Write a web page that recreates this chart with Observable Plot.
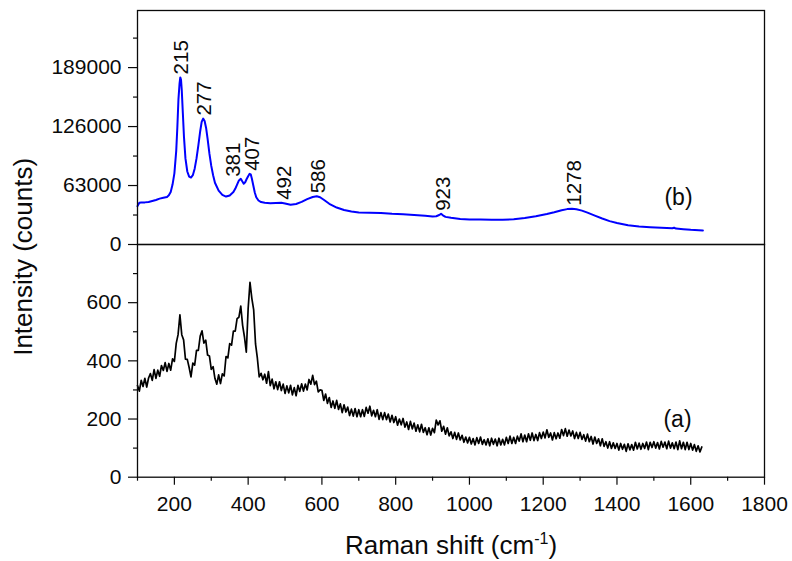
<!DOCTYPE html>
<html><head><meta charset="utf-8">
<script src="https://cdn.jsdelivr.net/npm/d3@7"></script>
<script src="https://cdn.jsdelivr.net/npm/@observablehq/plot@0.6"></script>
<style>
body{margin:0;background:#fff;}
#chart{position:relative;width:792px;height:561px;overflow:hidden;font-family:"Liberation Sans",Arial,sans-serif;}
#chart svg{position:absolute;left:0;}
</style></head><body><div id="chart"></div>
<script>
// ---- data ----
const xMajorTicks = [200, 400, 600, 800, 1000, 1200, 1400, 1600, 1800];
const xMinorTicks = [100, 300, 500, 700, 900, 1100, 1300, 1500, 1700];
const yTopTicks = [0, 63000, 126000, 189000];
const yTopMinor = [31500, 94500, 157500, 220500];
const yBotTicks = [0, 200, 400, 600];
const yBotMinor = [100, 300, 500, 700];
const peaks = [215, 277, 381, 407, 492, 586, 923, 1278];
const xTitle = "Raman shift (cm-1)";
const yTitle = "Intensity (counts)";
const labelB = "(b)";
const labelA = "(a)";

// spectrum (b): Raman shift / counts
const bX = [100,105,110,120,130,140,150,160,170,180,185,190,195,200,205,208,211,214,216,218,220,223,226,230,235,240,245,250,255,260,265,270,274,278,282,286,290,295,300,305,310,320,330,340,350,360,365,370,375,380,384,388,392,396,400,404,407,410,414,418,422,428,435,445,460,475,490,500,515,530,545,560,575,586,595,605,620,640,660,680,700,730,760,790,820,850,880,900,910,918,923,928,935,950,975,1000,1030,1060,1090,1120,1150,1180,1210,1230,1250,1265,1278,1290,1305,1320,1340,1360,1380,1400,1430,1460,1490,1520,1550,1555,1560,1580,1600,1633];
const bY = [41000,44500,44800,45000,45500,46500,47500,49000,50000,50800,52500,56000,64000,76000,100000,125000,155000,172000,178500,176000,165000,140000,115000,92000,78000,72500,71500,74000,81000,92000,106000,121000,131000,134500,132000,124500,113000,97000,84000,74000,66000,57500,53000,51200,52400,56000,59500,64000,68500,70200,67500,65000,66500,70000,73000,75500,75000,70500,63000,55500,50500,47000,45300,44500,44100,44300,44500,43800,42400,43300,45500,48500,50800,51500,50500,47800,43500,39500,36800,35200,34200,33900,33700,32800,32200,31400,30600,30000,30200,31500,32800,31200,29500,28500,27300,26700,26600,26500,26400,27000,28300,30200,32600,34500,36600,37800,38200,37600,36200,34000,30800,27800,25000,23000,20500,19300,18500,17900,17300,17900,17000,16400,15700,15000];

// spectrum (a): counts from 100 cm-1 in 5 cm-1 steps
const aStart = 100, aStep = 5;
const aY = [
315,296,333,312,340,310,341,356,333,370,340,368,347,384,367,394,364,391,368,407,
398,460,490,558,490,472,406,405,377,345,392,385,436,436,485,503,461,471,420,417,
371,380,339,320,352,322,355,348,415,410,459,454,502,502,545,550,588,522,482,430,
580,670,615,575,458,409,345,357,335,354,323,363,315,337,304,328,301,328,298,320,
288,314,290,316,283,308,280,316,295,321,296,320,300,336,320,350,318,330,293,300,
299,264,286,254,274,240,262,237,264,233,252,222,249,224,241,212,234,210,236,208,
232,208,232,209,240,220,244,211,230,208,232,199,222,198,222,198,217,190,213,188,
208,179,200,180,202,172,190,164,192,166,186,158,180,156,182,154,170,146,170,145,
168,153,196,180,194,158,175,148,170,142,156,133,154,130,152,128,144,120,138,118,
137,114,133,111,136,116,138,113,129,111,132,108,134,113,131,108,134,111,130,111,
137,116,141,116,137,116,141,124,149,122,145,122,149,127,152,126,147,126,153,133,
155,135,163,137,152,128,153,132,152,134,164,143,167,141,162,142,159,133,154,133,
154,130,146,124,148,122,140,114,138,116,132,108,132,106,122,100,122,99,118,99,
116,93,116,96,113,89,115,94,112,93,120,97,117,96,116,99,121,95,120,102,
122,100,119,97,123,103,121,98,124,100,118,98,121,95,125,98,120,95,120,95,
116,93,112,89,108,87,104];

// ---- build ----
const dataB = bX.map((x, i) => ({x, y: bY[i]}));
const dataA = aY.map((y, i) => ({x: aStart + i * aStep, y}));
const peakTop = p => d3.max(dataB.filter(d => Math.abs(d.x - p) <= 6), d => d.y);
const peakData = peaks.map(p => ({p, y: peakTop(p)}));

const FONT = '"Liberation Sans", Arial, sans-serif';
const INK = "#0a0a0a";
const common = {
  width: 792, marginLeft: 137, marginRight: 28,
  style: {fontFamily: FONT, background: "transparent", overflow: "visible", color: INK}
};
const fmt = d => String(d);

const topPlot = Plot.plot({
  ...common, height: 246, marginTop: 10, marginBottom: 2,
  x: {domain: [100, 1800], axis: null},
  y: {domain: [0, 250000]},
  marks: [
    Plot.axisY({ticks: yTopMinor, tickSize: 4, tickFormat: () => "", label: null, stroke: INK, strokeWidth: 1.2}),
    Plot.axisY({ticks: yTopTicks, tickSize: 9, tickPadding: 7, tickFormat: fmt, label: null, fontSize: 21, stroke: INK, strokeWidth: 1.2, fill: INK}),
    Plot.line(dataB, {x: "x", y: "y", stroke: "#0000ff", strokeWidth: 2}),
    Plot.text(peakData.filter(d => d.p !== 381), {x: "p", y: "y", text: d => String(d.p), rotate: -90, textAnchor: "start", lineAnchor: "middle", dx: 2, dy: -3, fontSize: 20.5, fill: INK}),
    Plot.text(peakData.filter(d => d.p === 381), {x: "p", y: "y", text: d => String(d.p), rotate: -90, textAnchor: "start", lineAnchor: "middle", dx: -8, dy: -2, fontSize: 20.5, fill: INK}),
    Plot.text([labelB], {text: d => d, frameAnchor: "bottom-right", textAnchor: "middle", lineAnchor: "middle", dx: -86, dy: -47, fontSize: 23, fill: INK}),
    Plot.frame({stroke: INK, strokeWidth: 1.3})
  ]
});

const bottomPlot = Plot.plot({
  ...common, height: 321, marginTop: 4, marginBottom: 84.3,
  x: {domain: [100, 1800]},
  y: {domain: [0, 800]},
  marks: [
    Plot.axisX({ticks: xMinorTicks, tickSize: 4, tickFormat: () => "", label: null, stroke: INK, strokeWidth: 1.2}),
    Plot.axisX({ticks: xMajorTicks, tickSize: 8, tickPadding: 11, tickFormat: fmt, label: null, fontSize: 21, stroke: INK, strokeWidth: 1.2, fill: INK}),
    Plot.axisY({ticks: yBotMinor, tickSize: 4, tickFormat: () => "", label: null, stroke: INK, strokeWidth: 1.2}),
    Plot.axisY({ticks: yBotTicks, tickSize: 9, tickPadding: 7, tickFormat: fmt, label: null, fontSize: 21, stroke: INK, strokeWidth: 1.2, fill: INK}),
    Plot.line(dataA, {x: "x", y: "y", stroke: "#000", strokeWidth: 1.7}),
    Plot.text([labelA], {text: d => d, frameAnchor: "bottom-right", textAnchor: "middle", lineAnchor: "middle", dx: -87, dy: -58, fontSize: 23, fill: INK}),
    Plot.text([xTitle], {text: d => d, frameAnchor: "bottom", textAnchor: "middle", lineAnchor: "middle", dy: 68, fontSize: 26, fill: INK}),
    Plot.text([yTitle], {text: d => d, frameAnchor: "left", rotate: -90, textAnchor: "middle", lineAnchor: "middle", dx: -114, dy: -104, fontSize: 26, fill: INK}),
    Plot.frame({stroke: INK, strokeWidth: 1.3})
  ]
});

topPlot.style.top = "0px";
bottomPlot.style.top = "240px";
const chart = document.getElementById("chart");
chart.appendChild(topPlot);
chart.appendChild(bottomPlot);

// superscript for cm-1
bottomPlot.querySelectorAll("text").forEach(t => {
  if (t.textContent === xTitle) {
    t.textContent = "";
    const ns = "http://www.w3.org/2000/svg";
    const a = document.createElementNS(ns, "tspan"); a.textContent = "Raman shift (cm";
    const s = document.createElementNS(ns, "tspan"); s.textContent = "-1";
    s.setAttribute("font-size", "16"); s.setAttribute("dy", "-10");
    const c = document.createElementNS(ns, "tspan"); c.textContent = ")"; c.setAttribute("dy", "10");
    t.appendChild(a); t.appendChild(s); t.appendChild(c);
  }
});
</script></body></html>
